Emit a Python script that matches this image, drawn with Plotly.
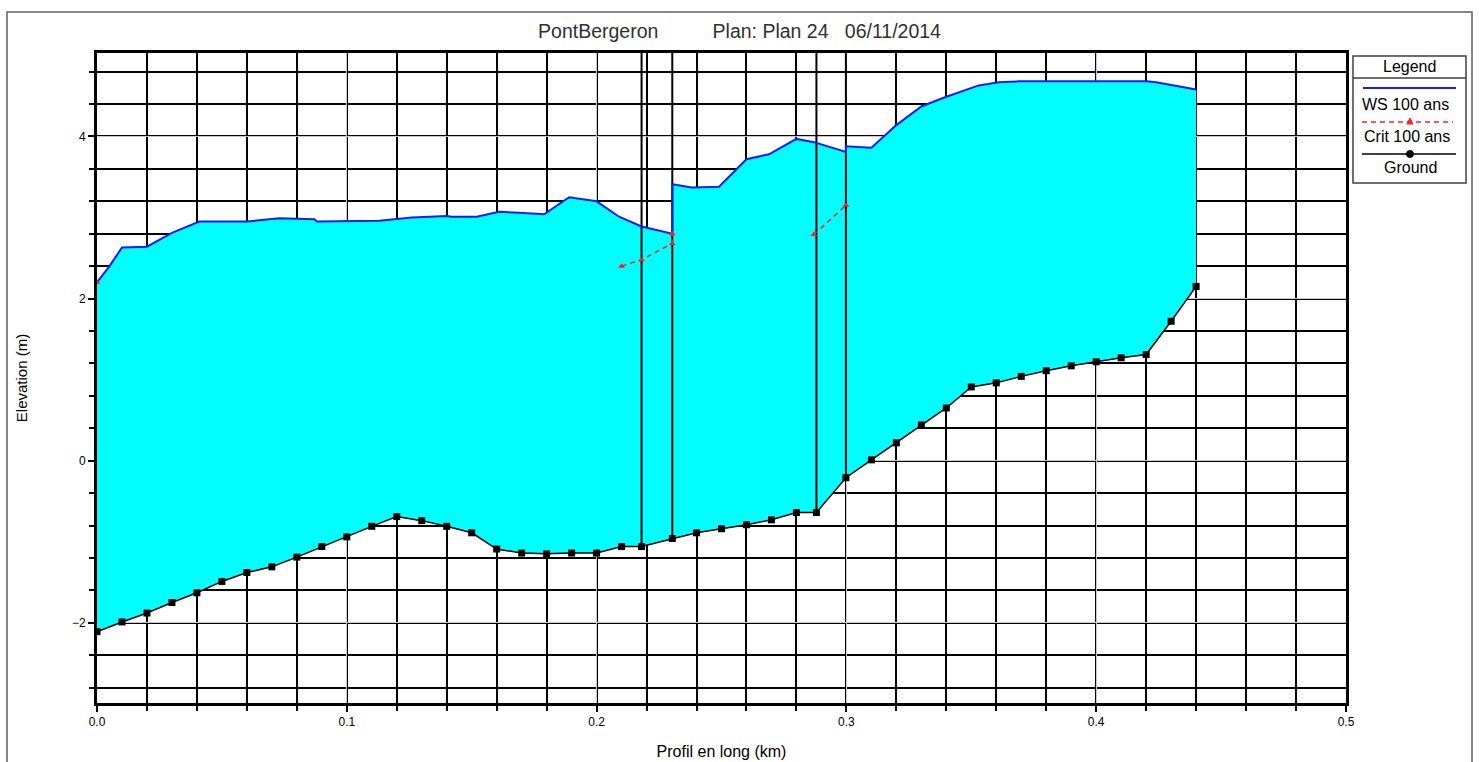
import numpy as np
import plotly.graph_objects as go

# ---------------- data ----------------
ground_km = [0.00, 0.01, 0.02, 0.03, 0.04, 0.05, 0.06, 0.07, 0.08, 0.09,
             0.10, 0.11, 0.12, 0.13, 0.14, 0.15, 0.16, 0.17, 0.18, 0.19,
             0.20, 0.21, 0.218, 0.2303, 0.24, 0.25, 0.26, 0.27, 0.28, 0.288,
             0.2998, 0.31, 0.32, 0.33, 0.34, 0.35, 0.36, 0.37, 0.38, 0.39,
             0.40, 0.41, 0.42, 0.43, 0.44]
ground_elev = [-2.11, -1.99, -1.88, -1.75, -1.63, -1.49, -1.38, -1.31, -1.19, -1.06,
               -0.94, -0.81, -0.69, -0.74, -0.81, -0.89, -1.09, -1.14, -1.15, -1.14,
               -1.14, -1.06, -1.06, -0.96, -0.89, -0.84, -0.79, -0.73, -0.64, -0.64,
               -0.21, 0.01, 0.22, 0.44, 0.65, 0.91, 0.96, 1.04, 1.11, 1.17,
               1.22, 1.27, 1.31, 1.72, 2.15]

ws_km = [0.0, 0.005, 0.01, 0.02, 0.03, 0.041, 0.06, 0.073, 0.087, 0.088,
         0.113, 0.126, 0.14, 0.142, 0.152, 0.161, 0.169, 0.179, 0.189, 0.20,
         0.209, 0.218, 0.2303, 0.2303, 0.238, 0.249, 0.26, 0.269, 0.28, 0.287,
         0.2998, 0.2998, 0.31, 0.32, 0.33, 0.34, 0.353, 0.361, 0.369, 0.42,
         0.424, 0.44]
ws_elev = [2.20, 2.40, 2.63, 2.64, 2.81, 2.95, 2.95, 2.99, 2.98, 2.95,
           2.96, 3.00, 3.02, 3.01, 3.01, 3.07, 3.06, 3.04, 3.25, 3.20,
           3.01, 2.89, 2.80, 3.41, 3.37, 3.38, 3.72, 3.78, 3.97, 3.93,
           3.81, 3.88, 3.86, 4.14, 4.37, 4.49, 4.63, 4.67, 4.68, 4.68,
           4.67, 4.58]

crit_km = [0.0, None, 0.21, 0.218, 0.2303, 0.2303, None, 0.287, 0.2998]
crit_elev = [2.20, None, 2.40, 2.48, 2.68, 2.80, None, 2.79, 3.15]

structure_km = [0.218, 0.2303, 0.288, 0.2998]

x_tick_labels = ["0.0", "0.1", "0.2", "0.3", "0.4", "0.5"]
y_tick_vals = [-2, 0, 2, 4]

title_text = ("PontBergeron" + "\u00a0" * 10 + "Plan: Plan 24" + "\u00a0" * 3 + "06/11/2014")
legend_labels = ["WS 100 ans", "Crit 100 ans", "Ground"]

# ---------------- figure geometry ----------------
W, H = 1479, 762
ML, MR, MT, MB = 97, 133, 53, 59
PW, PH = W - ML - MR, H - MT - MB
Y_MIN, Y_MAX = -2.99, 5.03
FONT = "Liberation Sans, Arial, sans-serif"


def px(x):
    return (x - ML) / PW


def py(y):
    return (H - MB - y) / PH


fig = go.Figure()

# cyan water area between WS and ground
fig.add_trace(go.Scatter(
    x=ws_km + ground_km[::-1], y=ws_elev + ground_elev[::-1],
    fill="toself", fillcolor="#00FFFF", mode="lines", line=dict(width=0),
    hoverinfo="skip", showlegend=False))

# structure (bridge) lines from ground to top
for s in structure_km:
    g = float(np.interp(s, ground_km, ground_elev))
    fig.add_trace(go.Scatter(x=[s, s], y=[g, Y_MAX], mode="lines",
                             line=dict(color="black", width=2),
                             hoverinfo="skip", showlegend=False))

# water surface
fig.add_trace(go.Scatter(x=ws_km, y=ws_elev, mode="lines", name=legend_labels[0],
                         line=dict(color="#1a1aff", width=2), showlegend=False))

# critical depth
fig.add_trace(go.Scatter(x=crit_km, y=crit_elev, mode="lines+markers", name=legend_labels[1],
                         line=dict(color="#ff2020", width=1.5, dash="5px,4px"),
                         marker=dict(symbol="triangle-up", size=6, color="#ff2020"),
                         connectgaps=False, showlegend=False))

# ground
fig.add_trace(go.Scatter(x=ground_km, y=ground_elev, mode="lines+markers", name=legend_labels[2],
                         line=dict(color="black", width=1.5),
                         marker=dict(symbol="square", size=7, color="black"),
                         showlegend=False))

axis_common = dict(showline=True, linecolor="black", linewidth=3, mirror=True,
                   ticks="outside", ticklen=6, tickcolor="black", tickwidth=1.5,
                   showgrid=True, gridcolor="#c8c8c8", gridwidth=1,
                   zeroline=False, automargin=False,
                   tickfont=dict(family=FONT, size=12, color="black"))

fig.update_xaxes(range=[0, 0.5], tickmode="array",
                 tickvals=[float(t) for t in x_tick_labels], ticktext=x_tick_labels,
                 minor=dict(dtick=0.02, tick0=0, showgrid=True, gridcolor="black",
                            gridwidth=2, ticks="outside", ticklen=5, tickcolor="black"),
                 title=dict(text="Profil en long (km)", standoff=18,
                            font=dict(family=FONT, size=16, color="black")),
                 **axis_common)
fig.update_yaxes(range=[Y_MIN, Y_MAX], tickmode="array", tickvals=y_tick_vals,
                 minor=dict(dtick=0.4, tick0=0, showgrid=True, gridcolor="black",
                            gridwidth=2, ticks="outside", ticklen=5, tickcolor="black"),
                 title=dict(text="Elevation (m)", standoff=41,
                            font=dict(family=FONT, size=15, color="black")),
                 **axis_common)

shapes = []
annotations = []
# outer frame
shapes.append(dict(type="rect", xref="paper", yref="paper",
                   x0=px(7), x1=px(1472), y0=py(800), y1=py(12),
                   line=dict(color="#606060", width=1.5)))
# legend box
shapes.append(dict(type="rect", xref="paper", yref="paper",
                   x0=px(1353), x1=px(1466), y0=py(183), y1=py(56),
                   line=dict(color="#404040", width=1.5), fillcolor="white"))
shapes.append(dict(type="line", xref="paper", yref="paper",
                   x0=px(1353), x1=px(1466), y0=py(78), y1=py(78),
                   line=dict(color="#404040", width=1.5)))
shapes.append(dict(type="line", xref="paper", yref="paper",
                   x0=px(1363), x1=px(1456), y0=py(88), y1=py(88),
                   line=dict(color="#1a1aff", width=2)))
shapes.append(dict(type="line", xref="paper", yref="paper",
                   x0=px(1362), x1=px(1453), y0=py(122), y1=py(122),
                   line=dict(color="#ff2020", width=1.5, dash="5px,4px")))
shapes.append(dict(type="path", xref="paper", yref="paper",
                   path=(f"M {px(1407)} {py(124)} L {px(1413)} {py(124)} "
                         f"L {px(1410)} {py(118)} Z"),
                   fillcolor="#ff2020", line=dict(color="#ff2020", width=1)))
shapes.append(dict(type="line", xref="paper", yref="paper",
                   x0=px(1362), x1=px(1456), y0=py(154), y1=py(154),
                   line=dict(color="black", width=1.5)))
shapes.append(dict(type="circle", xref="paper", yref="paper",
                   x0=px(1406.5), x1=px(1413.5), y0=py(157.5), y1=py(150.5),
                   fillcolor="black", line=dict(color="black", width=1)))

legend_font = dict(family=FONT, size=16, color="black")
for text, cx, cy in [("Legend", 1409, 66), (legend_labels[0], 1405, 104),
                     (legend_labels[1], 1407, 136), (legend_labels[2], 1410, 167)]:
    annotations.append(dict(text=text, xref="paper", yref="paper", x=px(cx), y=py(cy),
                            xanchor="center", yanchor="middle", showarrow=False,
                            font=legend_font))

fig.update_layout(
    width=W, height=H,
    margin=dict(l=ML, r=MR, t=MT, b=MB),
    paper_bgcolor="white", plot_bgcolor="white",
    title=dict(text=title_text, xref="container", x=0.5, xanchor="center",
               yref="container", y=1 - 31 / H, yanchor="middle",
               font=dict(family=FONT, size=19.5, color="#303030")),
    shapes=shapes, annotations=annotations, showlegend=False,
)

fig.write_html("out.html", config={"displayModeBar": False},
               post_script="document.body.style.margin='0';document.body.style.overflow='hidden';")
